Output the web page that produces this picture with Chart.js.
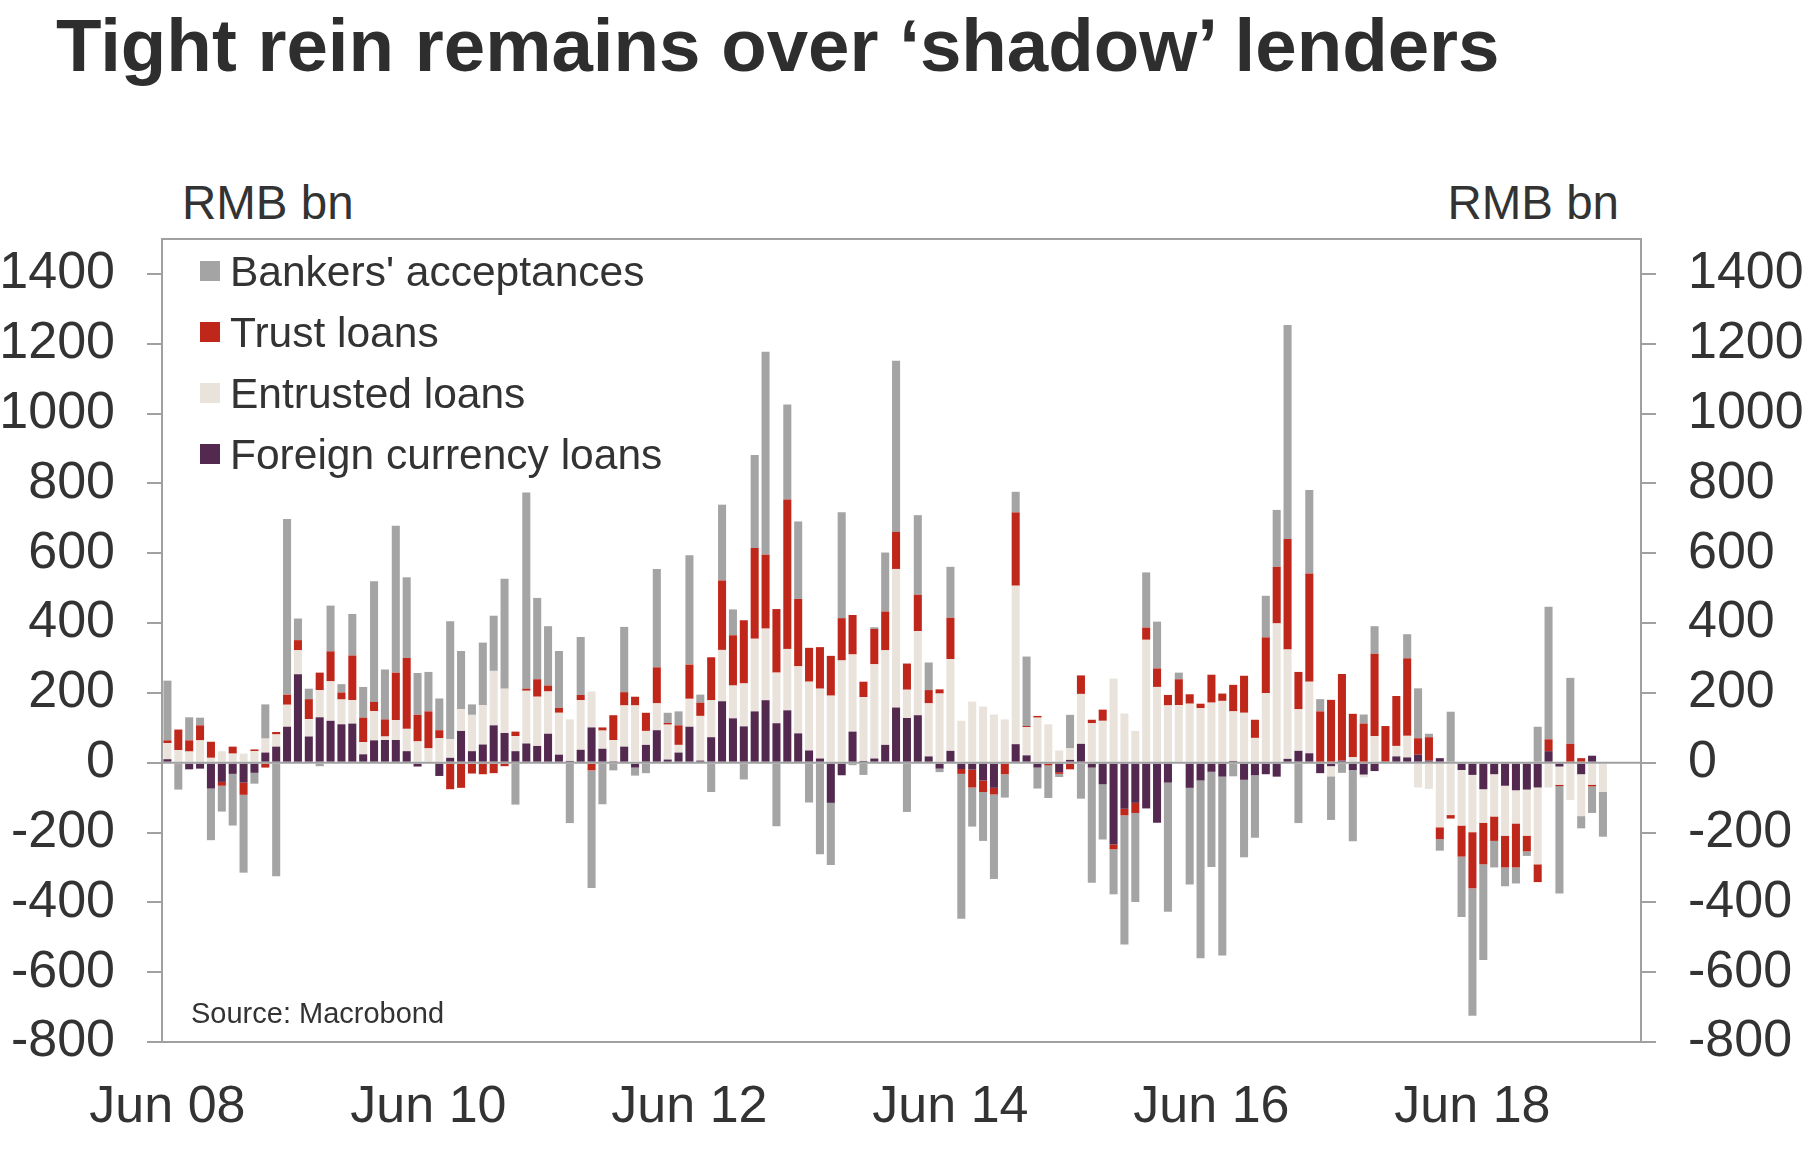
<!DOCTYPE html>
<html>
<head>
<meta charset="utf-8">
<title>Tight rein remains over ‘shadow’ lenders</title>
<script src="https://cdn.jsdelivr.net/npm/chart.js@4.4.1/dist/chart.umd.min.js"></script>
<style>
  html, body { margin: 0; padding: 0; background: #fff; }
  #wrap { position: relative; width: 1811px; height: 1149px; overflow: hidden; }
  #c { position: absolute; left: 0; top: 0; }
  .t { position: absolute; font-family: "Liberation Sans", Arial, sans-serif; color: #333; line-height: 1; white-space: nowrap; }
  .title { left: 56px; top: 9px; font-size: 74.5px; font-weight: bold; color: #2e2e2e; }
  .unit { font-size: 47.5px; top: 179px; }
  .unitL { left: 182px; }
  .unitR { right: 192px; }
  .source { left: 191px; top: 999px; font-size: 29px; }
</style>
</head>
<body>
<div id="wrap">
  <div class="t title">Tight rein remains over ‘shadow’ lenders</div>
  <div class="t unit unitL">RMB bn</div>
  <div class="t unit unitR">RMB bn</div>
  <canvas id="c" width="1811" height="1149"></canvas>
  <div class="t source">Source: Macrobond</div>
</div>
<script>
// monthly flows, RMB bn, Jun 2008 .. Jun 2019
const FOREIGN = [10,0,-19,-17,-74,-55,-32,-57,-29,29,
  46,103,253,75,130,120,110,112,24,64,
  65,65,33,-11,0,-38,14,91,33,52,
  107,85,33,55,48,83,23,5,37,101,
  40,4,46,-14,51,93,9,29,103,6,
  73,176,127,104,147,179,113,150,84,35,
  12,-115,-36,89,5,12,51,158,128,136,
  18,-17,34,-18,-20,-51,-72,0,53,21,
  -14,0,-27,8,54,-14,-62,-234,-132,-115,
  -131,-172,-57,0,-72,-51,-26,-40,5,-49,
  -36,-33,-40,11,34,27,-30,-10,6,-21,
  -34,-24,4,18,15,23,6,13,0,-21,
  -35,-76,-33,-66,-79,-77,-71,33,-11,0,
  -33,20,0];

const ENTRUSTED = [46,36,32,64,14,33,26,26,33,40,
  35,63,69,50,78,113,71,67,35,84,
  10,57,64,61,41,70,54,62,104,113,
  156,127,43,151,141,121,120,119,142,103,
  52,61,118,164,40,77,100,22,80,128,
  106,147,94,123,208,205,145,176,192,197,
  200,192,293,221,183,270,271,397,81,241,
  152,198,263,120,175,161,138,124,454,81,
  129,110,35,33,143,113,120,241,141,91,
  352,217,164,165,169,156,172,177,142,143,
  71,199,399,313,119,205,2,-29,0,16,
  -8,76,0,30,62,-71,-75,-185,-150,-159,
  -164,-96,-121,-143,-95,-132,-220,-71,-52,-107,
  -120,-63,-83];

const TRUST = [8,59,32,43,46,-11,20,-35,5,-14,
  7,29,29,57,50,86,20,128,70,26,
  49,136,203,76,106,23,-76,-72,-31,-33,
  -30,-10,13,6,50,17,14,0,15,-22,
  9,71,38,25,52,103,5,56,98,38,
  123,199,144,181,260,212,182,428,193,97,
  119,114,121,113,44,101,111,106,75,104,
  38,12,118,-14,-51,-33,-19,-33,210,3,
  5,-8,-5,-19,53,10,32,-14,-19,-29,
  35,53,30,74,27,13,80,21,76,106,
  52,160,162,317,107,310,145,180,248,124,
  112,236,101,143,222,47,67,-34,-10,-89,
  -161,-119,-70,-91,-126,-45,-51,34,-4,54,
  13,-5,0];

const BANKERS = [171,-77,66,22,-148,-74,-148,-223,-31,98,
  -325,503,62,30,-10,131,24,119,88,346,
  143,421,231,120,113,91,337,167,30,179,
  158,315,-120,562,233,170,163,-173,166,-337,
  -119,-22,187,-23,-30,282,29,40,313,23,
  -84,217,74,-48,266,581,-182,272,222,-114,
  -262,-178,303,-7,-35,5,169,490,-141,228,
  79,-10,146,-415,-112,-140,-242,-67,59,199,
  -60,-93,-9,96,-103,-330,-158,-129,-370,-255,
  158,134,-370,19,-277,-509,-273,-512,-39,-222,
  -179,119,163,613,-173,239,35,-125,-29,-204,
  26,79,0,0,69,143,10,-33,146,-173,
  -365,-274,-76,-54,-46,-13,103,380,-308,189,
  -35,-76,-129];

const Y_TICKS = [-800,-600,-400,-200,0,200,400,600,800,1000,1200,1400];
const X_TICK_LABELS = ['Jun 08','Jun 10','Jun 12','Jun 14','Jun 16','Jun 18'];

// category axis: one slot per month, Jun 08 .. Sep 19
const MON = ['Jan','Feb','Mar','Apr','May','Jun','Jul','Aug','Sep','Oct','Nov','Dec'];
const MONTHS = [];
for (let i = 0; i < 136; i++) {
  const m = (5 + i) % 12, y = 8 + Math.floor((5 + i) / 12);
  MONTHS.push(MON[m] + ' ' + String(y).padStart(2, '0'));
}

const COL = { bankers:'#a4a4a4', trust:'#c0271b', entrusted:'#e9e3dc', foreign:'#54294f' };
const LINE = '#a0a0a0';
const TXT = '#333333';
const FONT = '"Liberation Sans", Arial, sans-serif';

Chart.defaults.font.family = FONT;
Chart.defaults.color = TXT;

// plot frame, zero line and the legend sitting inside the plot
const frame = {
  id: 'frame',
  afterDatasetsDraw(chart) {
    const { ctx, chartArea: a } = chart;
    const y0 = chart.scales.y.getPixelForValue(0);
    ctx.save();
    ctx.strokeStyle = LINE;
    ctx.lineWidth = 2;
    ctx.beginPath();
    ctx.moveTo(a.left, y0); ctx.lineTo(a.right, y0);
    ctx.stroke();
    ctx.strokeRect(a.left, a.top, a.right - a.left, a.bottom - a.top);

    const sets = chart.data.datasets.slice().reverse();
    ctx.font = '42.5px ' + FONT;
    ctx.textBaseline = 'alphabetic';
    ctx.textAlign = 'left';
    sets.forEach((ds, i) => {
      const base = a.top + 47 + i * 61;
      ctx.fillStyle = ds.backgroundColor;
      ctx.fillRect(a.left + 38, base - 25, 20, 20);
      ctx.fillStyle = TXT;
      ctx.fillText(ds.label, a.left + 68, base);
    });
    ctx.restore();
  }
};

const yAxis = (pos, w) => ({
  type: 'linear', position: pos, stacked: true, min: -800, max: 1500,
  afterBuildTicks: s => { s.ticks = Y_TICKS.map(v => ({ value: v })); },
  afterFit: s => { s.width = w; },
  grid: { drawOnChartArea: false, drawTicks: true, tickLength: 15, color: LINE, lineWidth: 2 },
  border: { display: false },
  ticks: { font: { size: 52 }, color: TXT, padding: 32, callback: v => String(v) }
});

new Chart(document.getElementById('c'), {
  type: 'bar',
  data: {
    labels: MONTHS,
    datasets: [
      { label: 'Foreign currency loans', data: FOREIGN, backgroundColor: COL.foreign },
      { label: 'Entrusted loans', data: ENTRUSTED, backgroundColor: COL.entrusted },
      { label: 'Trust loans', data: TRUST, backgroundColor: COL.trust },
      { label: "Bankers' acceptances", data: BANKERS, backgroundColor: COL.bankers }
    ]
  },
  options: {
    responsive: false, animation: false, devicePixelRatio: 1,
    layout: { padding: { top: 239, left: 0, right: 0, bottom: 0 } },
    datasets: { bar: { barPercentage: 0.74, categoryPercentage: 1, borderWidth: 0 } },
    plugins: {
      legend: { display: false },
      tooltip: { enabled: false }
    },
    scales: {
      x: {
        stacked: true,
        afterFit: s => { s.height = 107; },
        grid: { display: false, drawTicks: false },
        border: { display: false },
        ticks: {
          autoSkip: false, maxRotation: 0, minRotation: 0, padding: 34,
          font: { size: 52 }, color: TXT,
          callback: (v, i) => X_TICK_LABELS.includes(MONTHS[i]) ? MONTHS[i] : ''
        }
      },
      y: yAxis('left', 162),
      y2: yAxis('right', 170)
    }
  },
  plugins: [frame]
});
</script>
</body>
</html>
